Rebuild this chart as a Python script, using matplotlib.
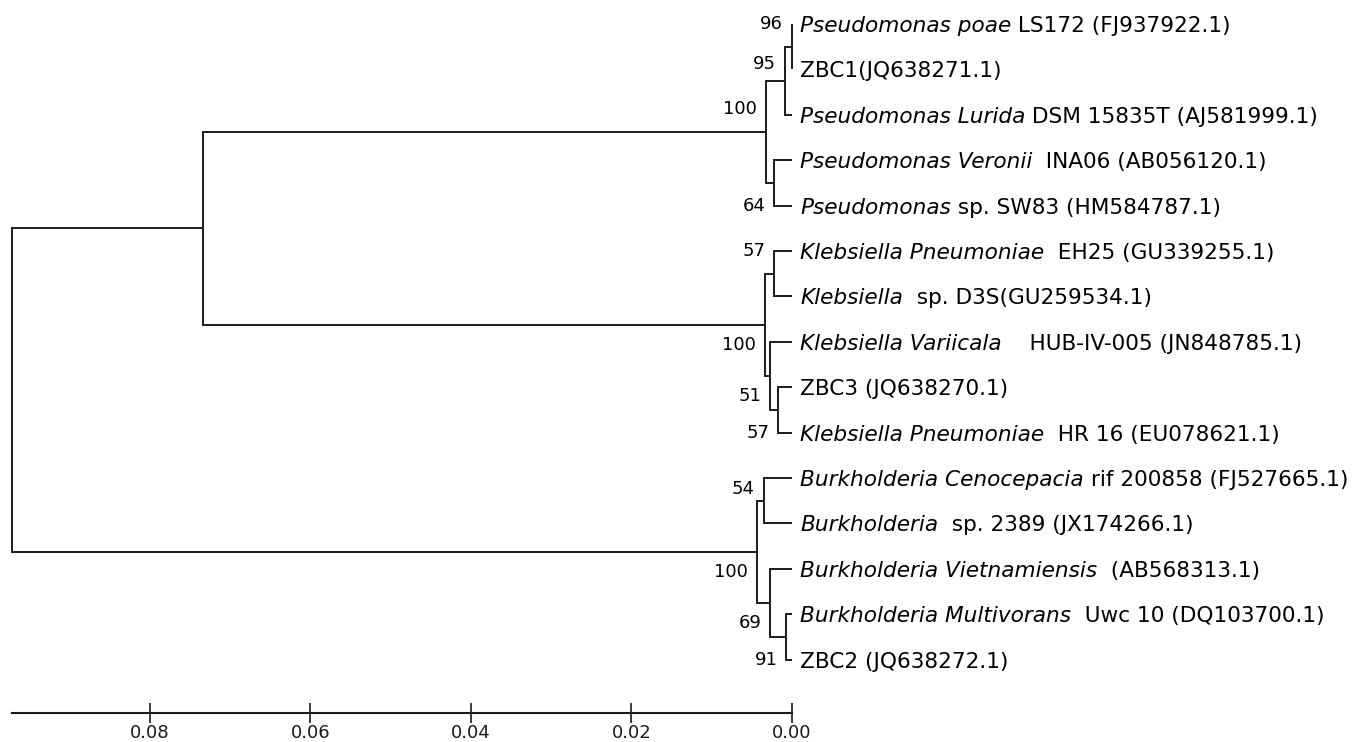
import matplotlib
matplotlib.use('Agg')
import matplotlib.pyplot as plt

# leaf labels, top to bottom (italic species part + upright strain part)
leaf_species = [
    "Pseudomonas poae", "", "Pseudomonas Lurida", "Pseudomonas Veronii", "Pseudomonas",
    "Klebsiella Pneumoniae", "Klebsiella", "Klebsiella Variicala", "", "Klebsiella Pneumoniae",
    "Burkholderia Cenocepacia", "Burkholderia", "Burkholderia Vietnamiensis",
    "Burkholderia Multivorans", "",
]
leaf_strain = [
    " LS172 (FJ937922.1)", "ZBC1(JQ638271.1)", " DSM 15835T (AJ581999.1)", "  INA06 (AB056120.1)",
    " sp. SW83 (HM584787.1)", "  EH25 (GU339255.1)", "  sp. D3S(GU259534.1)",
    "    HUB-IV-005 (JN848785.1)", "ZBC3 (JQ638270.1)", "  HR 16 (EU078621.1)",
    " rif 200858 (FJ527665.1)", "  sp. 2389 (JX174266.1)", "  (AB568313.1)",
    "  Uwc 10 (DQ103700.1)", "ZBC2 (JQ638272.1)",
]

# internal nodes (ids 15..28): children, height (distance), bootstrap
node_left = [0, 15, 3, 16, 5, 8, 7, 19, 18, 10, 13, 12, 24, 23]
node_right = [1, 2, 4, 17, 6, 9, 20, 21, 22, 11, 14, 25, 26, 27]
node_height = [0.0000, 0.0009, 0.0022, 0.0032, 0.0022, 0.0017, 0.0027, 0.0034,
               0.0734, 0.0035, 0.0007, 0.0027, 0.0044, 0.0972]
node_bootstrap = [96, 95, 64, 100, 57, 57, 51, 100, None, 54, 91, 69, 100, None]

scale_ticks = [0.08, 0.06, 0.04, 0.02, 0.00]

# layout only: where each bootstrap sits between the two children (0 = upper, 1 = lower)
boot_anchor = [0.0, 0.25, 1.0, 0.28, 0.0, 1.0, 0.8, 0.7, 0.5, 0.25, 1.0, 0.8, 0.7, 0.5]

W, H = 1358, 742
px_per_unit = 8025.0      # 0.02 -> ~160 px
x_zero_px = 792           # pixel column of distance 0
row0_px, row_step_px = 24, 45.4
bar_px = 713

line_col = "#1a1a1a"
fs_leaf = 15.6
fs_boot = 13

fig = plt.figure(figsize=(W / 100, H / 100), dpi=100)
ax = fig.add_axes([0, 0, 1, 1])
ax.set_xlim(x_zero_px / px_per_unit, -(W - x_zero_px) / px_per_unit)
ax.set_ylim((H - row0_px) / row_step_px, -row0_px / row_step_px)

n_leaf = len(leaf_species)
ypos = {i: float(i) for i in range(n_leaf)}
xpos = {i: 0.0 for i in range(n_leaf)}

for k in range(len(node_left)):
    nid = n_leaf + k
    a, b = node_left[k], node_right[k]
    h = node_height[k]
    ya, yb = ypos[a], ypos[b]
    ypos[nid] = (ya + yb) / 2
    xpos[nid] = h
    ax.plot([xpos[a], h, h, xpos[b]], [ya, ya, yb, yb], color=line_col, lw=1.4,
            solid_joinstyle='miter', solid_capstyle='butt')
    if node_bootstrap[k] is not None:
        yb_lab = ya + boot_anchor[k] * (yb - ya)
        ax.annotate(str(node_bootstrap[k]), xy=(h, yb_lab), xytext=(-9, 0),
                    textcoords='offset pixels', ha='right', va='center',
                    fontsize=fs_boot, color='black')

# leaf labels
for i in range(n_leaf):
    if leaf_species[i]:
        t1 = ax.annotate(leaf_species[i], xy=(0, ypos[i]), xytext=(8, -2),
                         textcoords='offset pixels', ha='left', va='center',
                         fontsize=fs_leaf, style='italic', color='black')
        ax.annotate(leaf_strain[i], xy=(1, 0), xycoords=t1, ha='left', va='bottom',
                    fontsize=fs_leaf, color='black')
    else:
        ax.annotate(leaf_strain[i], xy=(0, ypos[i]), xytext=(8, -2),
                    textcoords='offset pixels', ha='left', va='center',
                    fontsize=fs_leaf, color='black')

# scale bar along the bottom
for s in ['top', 'left', 'right']:
    ax.spines[s].set_visible(False)
bar_row = (bar_px - row0_px) / row_step_px
ax.spines['bottom'].set_position(('data', bar_row))
ax.spines['bottom'].set_bounds(node_height[-1], 0.0)
ax.spines['bottom'].set_linewidth(1.5)
ax.spines['bottom'].set_color(line_col)
ax.set_xticks(scale_ticks)
ax.set_xticklabels([f"{t:.2f}" for t in scale_ticks])
ax.tick_params(axis='x', direction='inout', length=14, width=1.2, pad=1,
               labelsize=13, colors=line_col)
ax.set_yticks([])
ax.patch.set_visible(False)

fig.savefig("out.png", dpi=100, facecolor='white')
